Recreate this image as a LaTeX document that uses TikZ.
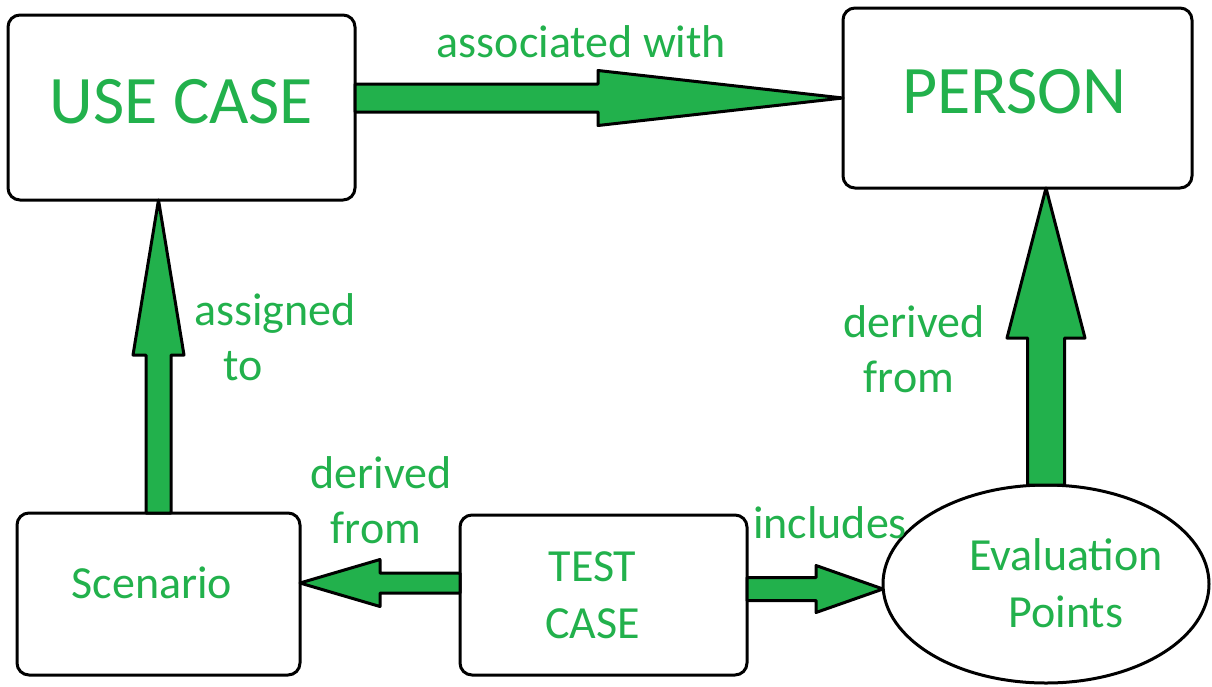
\documentclass[tikz,border=0pt]{standalone}
\usepackage{fontspec}
\setmainfont{Carlito}
\usetikzlibrary{calc,shapes.geometric}
\definecolor{arrgreen}{RGB}{34,177,76}
\definecolor{txtgreen}{RGB}{34,177,76}
\tikzset{
  box/.style={draw=black, line width=3pt, rounded corners=12pt, fill=white,
    outer sep=0pt, inner sep=0pt, text=txtgreen},
  bigtxt/.style={font=\fontsize{68}{80}\selectfont},
  midtxt/.style={font=\fontsize{46}{57}\selectfont},
  lbl/.style={text=txtgreen, font=\fontsize{46}{55}\selectfont, inner sep=0pt, anchor=base},
  blockarrow/.style={draw=black, fill=arrgreen, line width=3pt, line join=round},
}
% #1 start, #2 tip, #3 shaft half width, #4 head half width, #5 head length
\newcommand\blockarr[5]{%
  \draw[blockarrow] let \p1=(#1), \p2=(#2),
    \n1={veclen(\x2-\x1,\y2-\y1)},
    \n2={(\x2-\x1)/(\n1)}, \n3={(\y2-\y1)/(\n1)} in
    ({\x1-(#3)*(\n3)},{\y1+(#3)*(\n2)})
    -- ({\x2-(#5)*(\n2)-(#3)*(\n3)},{\y2-(#5)*(\n3)+(#3)*(\n2)})
    -- ({\x2-(#5)*(\n2)-(#4)*(\n3)},{\y2-(#5)*(\n3)+(#4)*(\n2)})
    -- (\p2)
    -- ({\x2-(#5)*(\n2)+(#4)*(\n3)},{\y2-(#5)*(\n3)-(#4)*(\n2)})
    -- ({\x2-(#5)*(\n2)+(#3)*(\n3)},{\y2-(#5)*(\n3)-(#3)*(\n2)})
    -- ({\x1+(#3)*(\n3)},{\y1-(#3)*(\n2)}) -- cycle;}
\begin{document}
\begin{tikzpicture}[x=1pt,y=-1pt]
\fill[white] (0,0) rectangle (1212,686);
\useasboundingbox (0,0) rectangle (1212,686);

% nodes
\node[box, bigtxt, minimum width=347pt, minimum height=185pt,
      text height=44pt, text depth=13pt] (uc) at (181.5,107.5) {USE CASE};
\node[box, font=\fontsize{68}{80}\selectfont, minimum width=349pt, minimum height=180pt,
      text height=43pt, text depth=13pt] (pe) at (1017.5,98) {\hspace*{-6pt}PERSON};
\node[box, midtxt, minimum width=283pt, minimum height=162pt,
      text height=31pt, text depth=23pt] (sc) at (158.5,594) {\hspace*{-13pt}Scenario};
\node[box, midtxt, align=center, minimum width=287pt, minimum height=160pt]
      (tc) at (603.5,595) {\hspace*{-22pt}TEST\\\hspace*{-22pt}CASE};
\node[draw=black, line width=3pt, ellipse, fill=white, inner sep=0pt, outer sep=0pt,
      minimum width=326pt, minimum height=198pt] (ep) at (1046,584) {};
\node[text=txtgreen, midtxt, align=center, inner sep=0pt] (ept) at (1066,583) {Evaluation\\Points};

% connector end points
\coordinate (a1e) at (pe.west);
\coordinate (a1s) at (uc.east |- a1e);
\coordinate (a2s) at (sc.north);
\coordinate (a2e) at (sc.north |- uc.south);
\coordinate (a3s) at ($(tc.west)+(0,-12)$);
\coordinate (a3e) at (sc.east |- a3s);
\coordinate (a4s) at ($(tc.east)+(0,-6)$);
\coordinate (a4e) at (ep.west |- a4s);
\coordinate (a5s) at (ep.north);
\coordinate (a5e) at (ep.north |- pe.south);

% block arrows
\blockarr{a1s}{a1e}{14}{27.5}{245}
\blockarr{a2s}{a2e}{12.5}{25.5}{155}
\blockarr{a3s}{a3e}{10}{23.5}{80}
\blockarr{a4s}{a4e}{11.5}{23.5}{67}
\blockarr{a5s}{a5e}{18.5}{39}{150}

% labels
\node[lbl] (l1) at (581.5,57) {associated with};
\node[lbl] (l2a) at (275,325) {assigned};
\node[lbl] (l2b) at (243,380) {to};
\node[lbl] (l3a) at (381,488) {derived};
\node[lbl] (l3b) at (376,543) {from};
\node[lbl] (l4) at (830,538) {includes};
\node[lbl] (l5a) at (914,337) {derived};
\node[lbl] (l5b) at (909,392) {from};
\end{tikzpicture}
\end{document}
